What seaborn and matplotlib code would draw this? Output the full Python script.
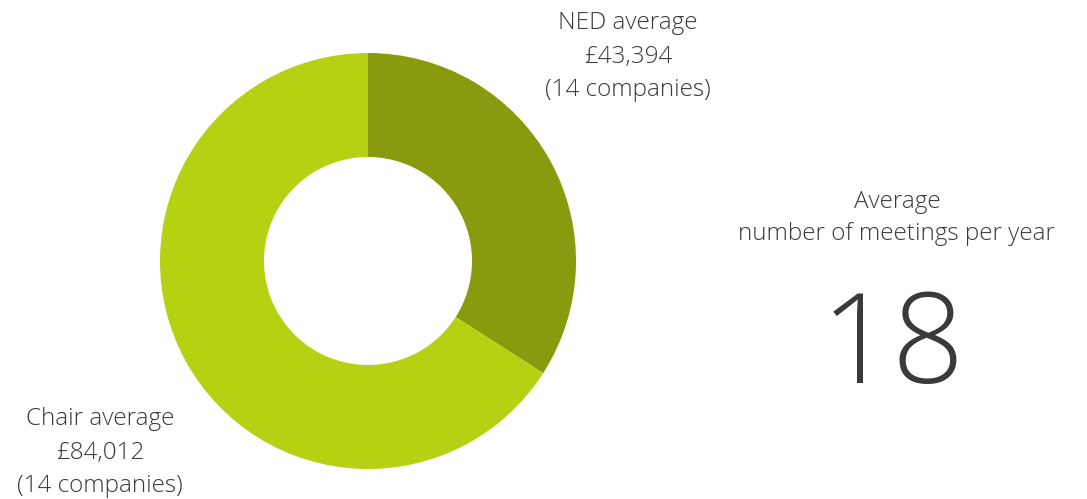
import matplotlib
matplotlib.use("Agg")
import matplotlib.pyplot as plt
import seaborn as sns

labels = ["NED average", "Chair average"]
values = [43394, 84012]
companies = [14, 14]
colors = ["#8A9A0E", "#B6D111"]
meetings = 18

sns.set_theme(style="white")
plt.rcParams['font.family'] = ['Open Sans', 'DejaVu Sans']

W, H = 1087, 499
fig = plt.figure(figsize=(W / 100, H / 100), dpi=100)
ax = fig.add_axes([0, 0, 1, 1])
ax.pie(values, colors=colors, startangle=90, counterclock=False,
       center=(368, H - 261), radius=208,
       wedgeprops=dict(width=104, linewidth=0))
ax.set_xlim(0, W)
ax.set_ylim(0, H)
ax.set_aspect('equal')
ax.axis('off')

tc = "#3a3a3a"
fs = 17.5
fw = 'light'
def label(x, y, name, val, n):
    ax.text(x, H - y, name, ha='center', va='center', fontsize=fs, color=tc, fontweight=fw)
    ax.text(x, H - y - 34, f"£{val:,}", ha='center', va='center', fontsize=fs, color=tc, fontweight=fw)
    ax.text(x, H - y - 67, f"({n} companies)", ha='center', va='center', fontsize=fs, color=tc, fontweight=fw)

label(628, 23, labels[0], values[0], companies[0])
label(100, 419, labels[1], values[1], companies[1])

ax.text(897, H - 202, "Average", ha='center', va='center', fontsize=fs, color=tc, fontweight=fw)
ax.text(897, H - 234, "number of meetings per year", ha='center', va='center', fontsize=fs, color=tc, fontweight=fw)
ax.text(893, H - 350, str(meetings), ha='center', va='center', fontsize=91, color=tc, fontweight=fw)

fig.savefig("out.png", dpi=100)
